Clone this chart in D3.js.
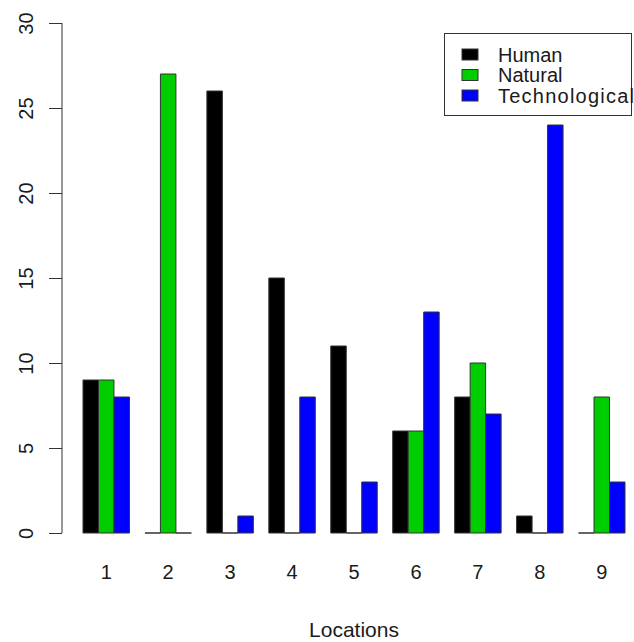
<!DOCTYPE html>
<html>
<head>
<meta charset="utf-8">
<script src="https://cdn.jsdelivr.net/npm/d3@7"></script>
<style>
  html, body { margin: 0; padding: 0; background: #fff; }
  svg { display: block; font-family: "Liberation Sans", Arial, sans-serif; }
</style>
</head>
<body>
<svg id="chart" width="634" height="642"></svg>
<script>
// Event counts per location, one array per category
const locations = ["1", "2", "3", "4", "5", "6", "7", "8", "9"];
const seriesNames = ["Human", "Natural", "Technological"];
const human = [9, 0, 26, 15, 11, 6, 8, 1, 0];
const natural = [9, 27, 0, 0, 0, 6, 10, 0, 8];
const technological = [8, 0, 1, 8, 3, 13, 7, 24, 3];
const seriesColors = ["#000000", "#00cd00", "#0000ff"];
const yTicks = [0, 5, 10, 15, 20, 25, 30];

const seriesValues = [human, natural, technological];
const rows = locations.map((loc, i) => ({
  loc,
  values: seriesNames.map((name, s) => ({ name, s, v: seriesValues[s][i] }))
}));

const svg = d3.select("#chart");
const ink = "#1a1a1a";
const edge = "#333333";

const x0 = d3.scaleBand().domain(locations).range([83, 625])
  .paddingInner(0.25).paddingOuter(0);
const x1 = d3.scaleBand().domain(seriesNames).range([0, x0.bandwidth()]);
const y = d3.scaleLinear().domain([0, 30]).range([533, 23]);
const color = d3.scaleOrdinal().domain(seriesNames).range(seriesColors);

// Bars: each drawn as a closed outline so zero-height bars still show their edge
const groups = svg.append("g").selectAll("g").data(rows).join("g")
  .attr("transform", d => `translate(${x0(d.loc)},0)`);
groups.selectAll("path").data(d => d.values).join("path")
  .attr("d", d => {
    const xl = x1(d.name), xr = xl + x1.bandwidth();
    const yt = y(d.v), yb = y(0);
    return `M${xl},${yb}H${xr}V${yt}H${xl}Z`;
  })
  .attr("fill", d => color(d.name))
  .attr("stroke", edge)
  .attr("stroke-width", 1);

// Category labels under each group
svg.append("g").selectAll("text").data(locations).join("text")
  .attr("x", d => x0(d) + x0.bandwidth() / 2)
  .attr("y", 579)
  .attr("text-anchor", "middle")
  .attr("font-size", 20)
  .attr("fill", ink)
  .text(d => d);

// Y axis
const yAxis = svg.append("g")
  .attr("transform", "translate(62,0)")
  .call(d3.axisLeft(y).tickValues(yTicks).tickSize(13).tickFormat(""));
yAxis.select(".domain").attr("stroke", edge).attr("d", `M0,${y(30)}V${y(0)}`);
yAxis.selectAll(".tick line").attr("stroke", edge);
yAxis.selectAll(".tick").append("text")
  .attr("transform", "translate(-29,0) rotate(-90)")
  .attr("text-anchor", "middle")
  .attr("font-size", 20)
  .attr("fill", ink)
  .text(d => d);

// Axis title
svg.append("text")
  .attr("x", 354).attr("y", 637)
  .attr("text-anchor", "middle")
  .attr("font-size", 21)
  .attr("fill", ink)
  .text("Locations");

// Legend
const legend = svg.append("g");
legend.append("rect")
  .attr("x", 444.5).attr("y", 33.5)
  .attr("width", 187).attr("height", 82)
  .attr("fill", "#fff").attr("stroke", edge);
const items = legend.selectAll("g").data(seriesNames).join("g")
  .attr("transform", (d, i) => `translate(0,${54.5 + i * 20.5})`);
items.append("rect")
  .attr("x", 462).attr("y", -5.5)
  .attr("width", 16).attr("height", 11)
  .attr("fill", d => color(d))
  .attr("stroke", edge);
items.append("text")
  .attr("x", 498).attr("y", 7)
  .attr("font-size", 20)
  .attr("textLength", d => d === "Technological" ? 136 : null)
  .attr("fill", ink)
  .text(d => d);
</script>
</body>
</html>
